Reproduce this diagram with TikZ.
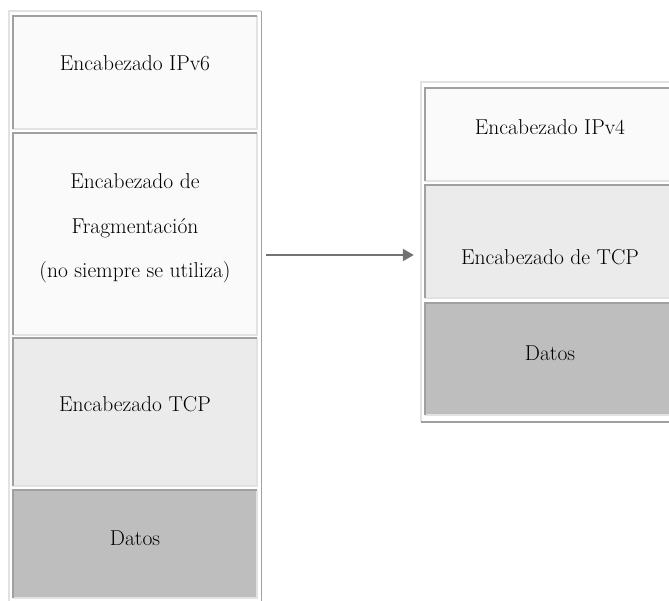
\documentclass[tikz,border=0pt]{standalone}
\usepackage{xcolor}
\usepackage{tikz}
\usetikzlibrary{arrows.meta}
\definecolor{cellwhite}{HTML}{FAFAFA}
\definecolor{celllight}{HTML}{EBEBEB}
\definecolor{celldark}{HTML}{BEBEBE}
\definecolor{edgedark}{HTML}{A0A0A0}
\definecolor{edgelight}{HTML}{E2E2E2}
\definecolor{arrowgray}{HTML}{727272}

\begin{document}
\begin{tikzpicture}[line cap=butt,line join=miter,x=1pt,y=-1pt,
  font=\fontsize{21.5}{25}\selectfont,
  cell/.style={rectangle,inner sep=0pt,draw=none},
  frame/.style={rectangle,inner sep=0pt,draw=none},
  label/.style={anchor=base,inner sep=0pt,text=black},
  darkedge/.style={draw=edgedark,line width=1.6pt},
  lightedge/.style={draw=edgelight,line width=1.6pt},
  flow/.style={-{Triangle[length=11pt,width=12pt]},draw=arrowgray,line width=2pt}]
\clip (0,0) rectangle (669,601);
\fill[white] (0,0) rectangle (669,601);
% left table
\node[frame,minimum width=252pt,minimum height=600pt] (lefttab) at (135.25,311.5) {};
\draw[lightedge] (lefttab.south west) |- (lefttab.north east);
\draw[darkedge] (lefttab.north east) |- (lefttab.south west);
\node[cell,fill=cellwhite,minimum width=244pt,minimum height=113pt] (ipvsix) at (135,72.5) {};
\node[cell,fill=cellwhite,minimum width=244pt,minimum height=202pt] (fraghdr) at (135,234) {};
\node[cell,fill=celllight,minimum width=244pt,minimum height=148pt] (tcphdr) at (135,412) {};
\node[cell,fill=celldark,minimum width=244pt,minimum height=108pt] (datosa) at (135,544) {};
\foreach \c in {ipvsix,fraghdr,tcphdr,datosa}{
  \draw[lightedge] (\c.south west) -| (\c.north east);
  \draw[darkedge] (\c.south west) |- (\c.north east);
}
\node[label] (ipvsixtext) at (135,71) {Encabezado IPv6};
\node[label] (fragone) at (135,189) {Encabezado de};
\node[label] (fragtwo) at (135,234) {Fragmentación};
\node[label] (fragthree) at (135,278) {(no siempre se utiliza)};
\node[label] (tcptext) at (135,411) {Encabezado TCP};
\node[label] (datosatext) at (135,545) {Datos};
% right table
\node[frame,minimum width=258pt,minimum height=340pt] (righttab) at (550,252) {};
\draw[lightedge] (righttab.south west) |- (righttab.north east);
\draw[darkedge] (righttab.north east) |- (righttab.south west);
\node[cell,fill=cellwhite,minimum width=250pt,minimum height=93pt] (ipvfour) at (550,134.5) {};
\node[cell,fill=celllight,minimum width=250pt,minimum height=113pt] (tcpseg) at (550,241.5) {};
\node[cell,fill=celldark,minimum width=250pt,minimum height=112pt] (datosb) at (550,359) {};
\foreach \c in {ipvfour,tcpseg,datosb}{
  \draw[lightedge] (\c.south west) -| (\c.north east);
  \draw[darkedge] (\c.south west) |- (\c.north east);
}
\node[label] (ipvfourtext) at (550,135) {Encabezado IPv4};
\node[label] (tcpsegtext) at (550,265) {Encabezado de TCP};
\node[label] (datosbtext) at (550,360) {Datos};
% arrow
\draw[flow] ([xshift=5pt,yshift=-3pt]lefttab.east |- righttab.west) -- ([xshift=-7pt,yshift=-3pt]righttab.west);
\end{tikzpicture}
\end{document}
